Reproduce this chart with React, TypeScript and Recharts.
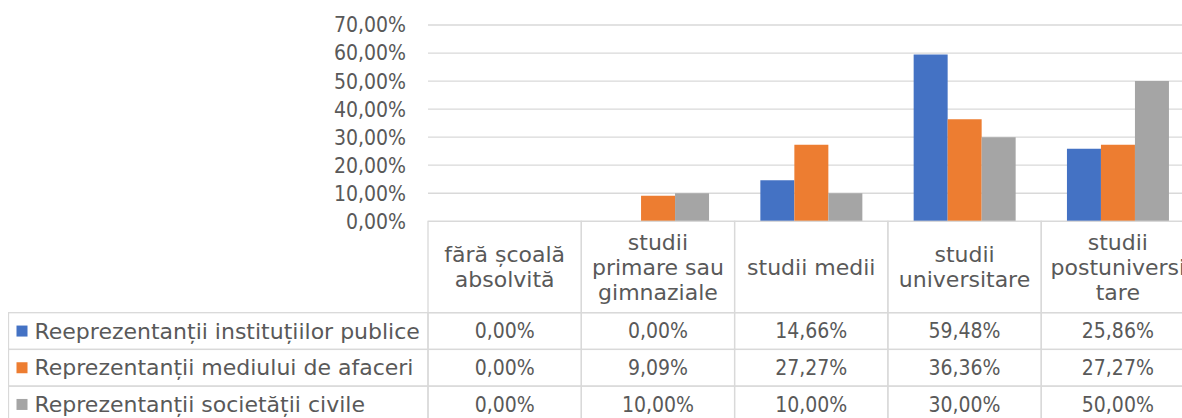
import React from "react";
import { BarChart, Bar, XAxis, YAxis, CartesianGrid } from "recharts";

const categories = [
  "fără școală absolvită",
  "studii primare sau gimnaziale",
  "studii medii",
  "studii universitare",
  "studii postuniversitare",
];
// header cell text, wrapped like in the table
const headerLines = [
  ["fără școală", "absolvită"],
  ["studii", "primare sau", "gimnaziale"],
  ["studii medii"],
  ["studii", "universitare"],
  ["studii", "postuniversi", "tare"],
];

const seriesNames = [
  "Reeprezentanții instituțiilor publice",
  "Reprezentanții mediului de afaceri",
  "Reprezentanții societății civile",
];
const publice = [0, 0, 14.66, 59.48, 25.86];
const afaceri = [0, 9.09, 27.27, 36.36, 27.27];
const civile = [0, 10, 10, 30, 50];
const yTicks = [0, 10, 20, 30, 40, 50, 60, 70];

const COLORS = ["#4472C4", "#ED7D31", "#A5A5A5"];
const NUM_FONT = "'DejaVu Sans Condensed', 'DejaVu Sans', sans-serif";
const WORD_FONT = "'DejaVu Sans', sans-serif";
const TEXT = "#595959";
const LINE = "#D9D9D9";

const LEFT = 420;
const PLOT_W = 766.5;
const BAND = PLOT_W / categories.length;
const HEADER_H = 91.4;
const ROW_H = 36.7;

const seriesValues = [publice, afaceri, civile];
const keys = ["publice", "afaceri", "civile"];

const data = categories.map((c, i) => ({
  category: c,
  publice: publice[i],
  afaceri: afaceri[i],
  civile: civile[i],
}));

const fmt = (v: number) => v.toFixed(2).replace(".", ",") + "%";

const HeaderTick = (props: any) => {
  const { x, y, index } = props;
  const lines = headerLines[index] || [];
  const cy = y + HEADER_H / 2;
  const lh = 25;
  const start = cy - ((lines.length - 1) * lh) / 2;
  return (
    <g>
      <rect x={x - BAND / 2} y={y} width={BAND} height={HEADER_H} fill="none" stroke={LINE} strokeWidth={1.3} />
      {lines.map((l, k) => (
        <text key={k} x={x} y={start + k * lh} dy="0.35em" textAnchor="middle" fontFamily={WORD_FONT} fontSize={22} fill={TEXT}>
          {l}
        </text>
      ))}
    </g>
  );
};

const ValueTick = (props: any) => {
  const { x, y, index, row } = props;
  const vals = seriesValues[row];
  const cy = y + ROW_H / 2;
  return (
    <g>
      {index === 0 && (
        <g>
          <rect x={0.5} y={y} width={LEFT - 0.5} height={ROW_H} fill="none" stroke={LINE} strokeWidth={1.3} />
          <rect x={8.5} y={cy - 5.5} width={11} height={11} fill={COLORS[row]} />
          <text x={26.5} y={cy} dy="0.35em" fontFamily={WORD_FONT} fontSize={22} fill={TEXT}>
            {seriesNames[row]}
          </text>
        </g>
      )}
      <rect x={x - BAND / 2} y={y} width={BAND} height={ROW_H} fill="none" stroke={LINE} strokeWidth={1.3} />
      <text x={x} y={cy} dy="0.35em" textAnchor="middle" fontFamily={NUM_FONT} fontSize={21} fill={TEXT}>
        {fmt(vals[index])}
      </text>
    </g>
  );
};

export default function App() {
  return (
    <div style={{ position: "absolute", top: 8, left: 8, width: 1174, height: 410, overflow: "hidden", background: "#fff" }}>
      <BarChart
        width={1200}
        height={416}
        data={data}
        margin={{ top: 17, right: 1200 - LEFT - PLOT_W, bottom: 1.2, left: 0 }}
        barCategoryGap="16.8%"
        barGap={0}
      >
        <CartesianGrid vertical={false} stroke={LINE} strokeWidth={1.3} yAxisId="y" xAxisId="cat" />
        <YAxis
          yAxisId="y"
          width={LEFT}
          domain={[0, 70]}
          ticks={yTicks}
          interval={0}
          tickFormatter={fmt}
          axisLine={false}
          tickLine={false}
          tickSize={0}
          tickMargin={22}
          tick={{ fontSize: 21, fill: TEXT, fontFamily: NUM_FONT }}
        />
        <XAxis
          xAxisId="cat"
          dataKey="category"
          height={HEADER_H}
          axisLine={false}
          tickLine={false}
          tickSize={0}
          tickMargin={0}
          interval={0}
          tick={<HeaderTick />}
        />
        {[0, 1, 2].map((r) => (
          <XAxis
            key={r}
            xAxisId={`s${r}`}
            dataKey="category"
            height={ROW_H}
            axisLine={false}
            tickLine={false}
            tickSize={0}
            tickMargin={0}
            interval={0}
            tick={<ValueTick row={r} />}
          />
        ))}
        {keys.map((k, i) => (
          <Bar
            key={k}
            dataKey={k}
            name={seriesNames[i]}
            xAxisId="cat"
            yAxisId="y"
            fill={COLORS[i]}
            isAnimationActive={false}
          />
        ))}
      </BarChart>
    </div>
  );
}
